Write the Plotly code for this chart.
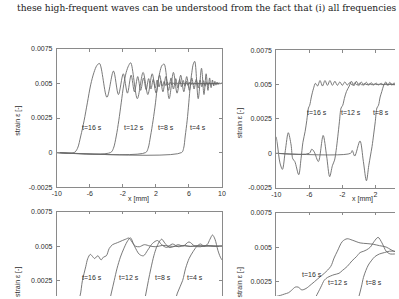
import plotly.graph_objects as go

W, H = 399, 299

TOP_TEXT = "these high-frequent waves can be understood from the fact that (i) all frequencies are"
Y_TITLE = "strain ε [-]"
X_TITLE = "x [mm]"
Y_TICK_VALUES = [-0.0025, 0, 0.0025, 0.005, 0.0075]
Y_TICK_LABELS = ["-0.0025", "0", "0.0025", "0.005", "0.0075"]
X_TICK_VALUES = [-10, -6, -2, 2, 6, 10]
X_TICK_LABELS = ["-10", "-6", "-2", "2", "6", "10"]

# ---------- top-left panel ----------
TL_T16_X = [-10, -7.9, -7.5, -7.1, -6.7, -6.3, -5.9, -5.5, -5.15, -4.83,
            -3.93, -3.14, -2.54, -1.95, -1.45, -1.0, -0.6, -0.2, 0.15, 0.5,
            0.82, 1.12, 1.4, 1.67, 1.92, 2.15, 2.38, 2.6, 2.8, 3.0,
            3.2, 3.38, 3.56, 3.74, 3.9, 4.06, 4.22, 4.38, 4.54, 4.7, 4.9, 10]
TL_T16_Y = [0, 0, 0.0003, 0.0012, 0.0023, 0.0036, 0.0049, 0.0058, 0.0063, 0.00645,
            0.0040, 0.0059, 0.0042, 0.0057, 0.0043, 0.0056, 0.0044, 0.0055, 0.0045, 0.0054,
            0.00455, 0.00535, 0.0046, 0.0053, 0.00468, 0.00525, 0.00475, 0.0052, 0.0048, 0.00515,
            0.00485, 0.0051, 0.0049, 0.00508, 0.00492, 0.00506, 0.00494, 0.00505, 0.00496, 0.00503, 0.005, 0.005]
TL_T12_X = [-10, -3.5, -3.15, -2.8, -2.5, -2.2, -1.9, -1.6, -1.3, -1.05,
            -0.25, 0.45, 1.02, 1.55, 2.02, 2.45, 2.85, 3.2, 3.53, 3.83,
            4.12, 4.4, 4.65, 4.88, 5.1, 5.31, 5.51, 5.7, 5.88, 6.05,
            6.22, 6.38, 6.54, 6.7, 6.85, 7.0, 7.2, 10]
TL_T12_Y = [0, 0, 0.0003, 0.0012, 0.0023, 0.0036, 0.0049, 0.0058, 0.0063, 0.0065,
            0.0039, 0.0058, 0.0042, 0.0057, 0.0043, 0.0056, 0.0044, 0.0055, 0.0045, 0.0054,
            0.0046, 0.00535, 0.00468, 0.0053, 0.00475, 0.00522, 0.0048, 0.00515, 0.00486, 0.0051,
            0.0049, 0.00507, 0.00493, 0.00505, 0.00496, 0.00503, 0.005, 0.005]
TL_T8_X = [-10, 0.75, 1.05, 1.35, 1.65, 1.95, 2.2, 2.47, 2.73, 3.0,
           3.6, 4.12, 4.56, 5.0, 5.38, 5.73, 6.05, 6.35, 6.62, 6.88,
           7.12, 7.35, 7.56, 7.76, 7.95, 8.13, 8.3, 8.47, 8.63, 8.78,
           8.93, 9.1, 10]
TL_T8_Y = [0, 0, 0.0003, 0.0012, 0.0023, 0.0036, 0.0049, 0.0058, 0.0063, 0.0064,
           0.0039, 0.0058, 0.0043, 0.0056, 0.0044, 0.0055, 0.0045, 0.0054, 0.0046, 0.0053,
           0.00468, 0.00525, 0.00476, 0.0052, 0.0048, 0.00512, 0.00488, 0.00508, 0.00493, 0.00505,
           0.00497, 0.005, 0.005]
TL_T4_X = [-10, 5.1, 5.35, 5.55, 5.78, 5.98, 6.17, 6.35, 6.52, 6.7,
           7.12, 7.52, 7.82, 8.08, 8.3, 8.5, 8.68, 8.85, 9.0, 9.14,
           9.27, 9.4, 9.52, 9.64, 9.76, 9.88, 10]
TL_T4_Y = [0, 0, 0.0003, 0.0012, 0.0023, 0.0036, 0.0049, 0.0058, 0.0064, 0.0066,
           0.0039, 0.0061, 0.0042, 0.0057, 0.0045, 0.0054, 0.0047, 0.00525, 0.00482, 0.00515,
           0.00488, 0.0051, 0.00492, 0.00506, 0.00495, 0.00503, 0.005]

# ---------- top-right panel ----------
TR_T16_X = [-10, -9.85, -9.55, -9.25, -8.9, -8.54, -8.2, -8.0, -7.75, -7.28,
            -7.0, -6.77, -6.5, -6.3, -6.1, -5.95, -5.75, -5.5, -5.25, -5.0,
            -4.7, -4.4, -4.1, -3.8, -3.5, -3.2, -2.9, -2.6, -2.3, -2.0,
            -1.7, -1.4, -1.1, -0.8, -0.5, -0.2, 0.1, 0.4, 0.7, 1.0,
            1.3, 1.6, 1.9, 2.2, 2.5, 2.8, 3.1, 3.4, 3.7, 4.0, 4.3, 4.6]
TR_T16_Y = [0.0012, 0.0006, -0.0007, -0.00117, 0.0002, 0.0015, 0.0006, -0.0004, -0.0006, -0.00156,
            -0.0004, 0.0008, 0.0016, 0.0024, 0.0033, 0.0035, 0.0041, 0.0047, 0.0051, 0.0049,
            0.0053, 0.0049, 0.0053, 0.00495, 0.0053, 0.00495, 0.00525, 0.00495, 0.0052, 0.00495,
            0.0052, 0.00497, 0.00515, 0.00497, 0.00512, 0.00498, 0.0051, 0.00498, 0.00508, 0.00499,
            0.00506, 0.00499, 0.00505, 0.005, 0.00504, 0.005, 0.00503, 0.005, 0.00503, 0.005, 0.00502, 0.005]
TR_T12_X = [-10, -6.0, -5.7, -5.4, -4.9, -4.32, -3.9, -3.53, -3.2, -2.94,
            -2.75, -2.55, -2.35, -2.15, -1.95, -1.75, -1.5, -1.16, -0.9, -0.6,
            -0.3, 0.0, 0.3, 0.6, 0.9, 1.2, 1.5, 1.8, 2.1, 2.4,
            2.7, 3.0, 3.3, 3.6, 3.9, 4.2, 4.6]
TR_T12_Y = [0, 0, 0.0003, 0.0001, -0.0006, 0.0013, -0.0002, -0.0017, -0.0009, -0.0005,
            0.0002, 0.0012, 0.0023, 0.0033, 0.0035, 0.0040, 0.0045, 0.0049, 0.00525, 0.00492,
            0.00525, 0.00493, 0.0052, 0.00495, 0.00518, 0.00496, 0.00515, 0.00497, 0.00512, 0.00498,
            0.0051, 0.00498, 0.00508, 0.00499, 0.00506, 0.005, 0.005]
TR_T8_X = [-10, -1.0, -0.8, -0.5, 0.14, 0.55, 0.92, 1.2, 1.4, 1.6,
           1.8, 1.99, 2.19, 2.38, 2.58, 2.78, 2.98, 3.25, 3.5, 3.75,
           4.0, 4.25, 4.6]
TR_T8_Y = [0, 0, 0.0002, -0.0002, 0.0009, -0.0006, -0.0020, -0.0009, -0.0002, 0.0005,
           0.0014, 0.0023, 0.0033, 0.0035, 0.0041, 0.0045, 0.0049, 0.0052, 0.00495, 0.00518,
           0.00497, 0.00512, 0.005]

# ---------- bottom-left panel ----------
BL_T16_X = [-10, -8.6, -8.0, -7.6, -7.2, -6.9, -6.5, -6.25, -5.94, -5.68,
            -5.42, -5.03, -4.64, -4.35, -4.0, -3.65, -3.25, -2.86, -2.45, -2.07,
            -1.65, -1.28, -0.9, -0.5, 0.0, 0.6, 1.3, 2.0, 2.8, 3.6,
            4.4, 5.2, 6.0, 6.8, 7.6, 8.4, 9.2, 10]
BL_T16_Y = [0, 0, 0.0004, 0.0009, 0.00137, 0.0025, 0.0035, 0.0041, 0.0044, 0.00425,
            0.0041, 0.0043, 0.0040, 0.0042, 0.0043, 0.00483, 0.0051, 0.0052, 0.0053, 0.0054,
            0.0055, 0.00558, 0.0053, 0.0050, 0.00495, 0.0051, 0.0050, 0.00495, 0.00505, 0.005,
            0.00497, 0.00503, 0.00498, 0.005, 0.00502, 0.005, 0.00499, 0.005]
BL_T12_X = [-10, -4.3, -3.8, -3.4, -3.05, -2.7, -2.3, -1.9, -1.5, -1.1,
            -0.6, 0.0, 0.5, 1.0, 1.6, 2.2, 2.7, 3.3, 4.0, 4.7,
            5.4, 6.2, 7.0, 7.8, 8.6, 9.4, 10]
BL_T12_Y = [0, 0, 0.0006, 0.0016, 0.0025, 0.0034, 0.0042, 0.0048, 0.0053, 0.0056,
            0.0050, 0.0044, 0.0043, 0.0047, 0.0052, 0.0054, 0.0051, 0.0049, 0.00515, 0.00495,
            0.00505, 0.00497, 0.00503, 0.00498, 0.00502, 0.005, 0.005]
BL_T8_X = [-10, 0.0, 0.45, 0.8, 1.09, 1.4, 1.75, 2.07, 2.4, 2.7,
           3.1, 3.6, 4.1, 4.7, 5.3, 6.0, 6.7, 7.4, 8.1, 8.8,
           9.5, 10]
BL_T8_Y = [0, 0, 0.0006, 0.0016, 0.0025, 0.0034, 0.0043, 0.0049, 0.0053, 0.0055,
           0.0052, 0.0049, 0.00495, 0.0051, 0.0050, 0.0053, 0.0050, 0.00495, 0.00505, 0.005,
           0.00498, 0.005]
BL_T4_X = [-10, 3.6, 4.1, 4.6, 5.23, 5.6, 6.02, 6.5, 7.0, 7.4,
           7.8, 8.2, 8.55, 8.85, 9.15, 9.5, 9.8, 10]
BL_T4_Y = [0, 0, 0.0006, 0.0016, 0.0025, 0.0034, 0.0041, 0.0046, 0.0050, 0.00515,
           0.0050, 0.0051, 0.0055, 0.0058, 0.0055, 0.0047, 0.0042, 0.0040]

# ---------- bottom-right panel ----------
BR_T16_X = [-10, -9.5, -9.0, -8.5, -8.13, -7.7, -7.34, -6.9, -6.4, -5.76,
            -4.97, -4.18, -3.4, -3.0, -2.6, -2.0, -1.42, -0.8, 0.15, 1.0,
            1.74, 2.5, 3.31, 3.9, 4.6]
BR_T16_Y = [0.00143, 0.0015, 0.0016, 0.0017, 0.00188, 0.0021, 0.0021, 0.0019, 0.0020, 0.0023,
            0.0027, 0.0031, 0.0036, 0.0042, 0.0047, 0.0054, 0.0056, 0.0055, 0.0053, 0.00525,
            0.0052, 0.0051, 0.0050, 0.0048, 0.0046]
BR_T12_X = [-10, -6.5, -5.8, -5.2, -4.6, -4.18, -3.79, -3.0, -2.4, -2.0,
            -1.4, -0.83, -0.3, 0.15, 0.6, 0.95, 1.4, 1.85, 2.33, 2.8,
            3.31, 3.8, 4.3, 4.6]
BR_T12_Y = [0, 0, 0.0007, 0.0014, 0.0021, 0.0026, 0.0028, 0.0030, 0.0031, 0.0033,
            0.0036, 0.0040, 0.0043, 0.0046, 0.0047, 0.0048, 0.0050, 0.0054, 0.0057, 0.0053,
            0.0047, 0.0045, 0.0045, 0.0045]
BR_T8_X = [-10, -1.0, -0.3, 0.0, 0.3, 0.56, 0.85, 1.15, 1.5, 1.93,
           2.5, 3.1, 3.7, 4.3, 4.6]
BR_T8_Y = [0, 0, 0.0008, 0.0014, 0.0021, 0.0028, 0.0033, 0.0037, 0.0040, 0.0043,
           0.0045, 0.0046, 0.0047, 0.0047, 0.0047]

# labels: (text, x, y)
TL_LABELS = [("t=16 s", -5.74, 0.00178), ("t=12 s", -0.65, 0.00178), ("t=8 s", 3.2, 0.00178), ("t=4 s", 7.04, 0.00178)]
TR_LABELS = [("t=16 s", -5.09, 0.00297), ("t=12 s", -0.89, 0.00297), ("t=8 s", 2.66, 0.00297)]
BL_LABELS = [("t=16 s", -5.72, 0.0027), ("t=12 s", -1.28, 0.0027), ("t=8 s", 2.9, 0.0027), ("t=4 s", 6.69, 0.0027)]
BR_LABELS = [("t=16 s", -5.7, 0.0030), ("t=12 s", -2.49, 0.0024), ("t=8 s", 1.83, 0.0024)]

LINE_COLOR = "#6a6a6a"
AXIS_COLOR = "#8a8a8a"
TEXT_COLOR = "#2e2e2e"
FONT = "Liberation Sans, Arial, sans-serif"

def px(v):
    return v / W

def py(v):
    return 1 - v / H

PX_PER_X = 8.45
PX_PER_Y = 14150.0

fig = go.Figure()

panels = [
    ("x", "y", [(TL_T16_X, TL_T16_Y), (TL_T12_X, TL_T12_Y), (TL_T8_X, TL_T8_Y), (TL_T4_X, TL_T4_Y)], TL_LABELS),
    ("x2", "y2", [(TR_T16_X, TR_T16_Y), (TR_T12_X, TR_T12_Y), (TR_T8_X, TR_T8_Y)], TR_LABELS),
    ("x3", "y3", [(BL_T16_X, BL_T16_Y), (BL_T12_X, BL_T12_Y), (BL_T8_X, BL_T8_Y), (BL_T4_X, BL_T4_Y)], BL_LABELS),
    ("x4", "y4", [(BR_T16_X, BR_T16_Y), (BR_T12_X, BR_T12_Y), (BR_T8_X, BR_T8_Y)], BR_LABELS),
]

annotations = []
for xa, ya, series, labels in panels:
    for xs, ys in series:
        fig.add_trace(go.Scatter(x=xs, y=ys, xaxis=xa, yaxis=ya, mode="lines",
                                 line=dict(color=LINE_COLOR, width=0.9, shape="spline", smoothing=0.9),
                                 showlegend=False, hoverinfo="skip", cliponaxis=True))
    for txt, lx, ly in labels:
        annotations.append(dict(text=txt, x=lx, y=ly, xref=xa, yref=ya, showarrow=False,
                                xanchor="center", yanchor="middle",
                                font=dict(size=7, color=TEXT_COLOR, family=FONT)))

common_x = dict(tickvals=X_TICK_VALUES, ticktext=X_TICK_LABELS, showgrid=False, zeroline=False,
                showline=True, linecolor=AXIS_COLOR, linewidth=0.8, ticks="inside", ticklen=3,
                tickcolor=AXIS_COLOR, tickwidth=0.8, tickfont=dict(size=7, color=TEXT_COLOR, family=FONT))
common_y = dict(tickvals=Y_TICK_VALUES, ticktext=Y_TICK_LABELS, showgrid=False, zeroline=False,
                showline=True, linecolor=AXIS_COLOR, linewidth=0.8, ticks="inside", ticklen=3,
                tickcolor=AXIS_COLOR, tickwidth=0.8, tickfont=dict(size=7, color=TEXT_COLOR, family=FONT),
                ticklabelstandoff=2)

L0, L1 = 53, 222
R0 = 277.5
right_max = -10 + (W - R0) / PX_PER_X
TOP0, TOP1 = 46, 187.5
BL_TOP = 212.5
BR_TOP = 213.5

fig.update_layout(
    width=W, height=H, margin=dict(l=0, r=0, t=0, b=0),
    paper_bgcolor="white", plot_bgcolor="white",
    xaxis=dict(common_x, domain=[px(L0), px(L1)], range=[-10, 10], anchor="y", mirror="ticks"),
    yaxis=dict(common_y, domain=[py(TOP1), py(TOP0)], range=[-0.0025, 0.0075], anchor="x", mirror="ticks"),
    xaxis2=dict(common_x, domain=[px(R0), 1], range=[-10, right_max], anchor="y2", mirror="ticks"),
    yaxis2=dict(common_y, domain=[py(TOP1 + 0.5), py(TOP0 + 1.5)], range=[-0.0025, 0.0075], anchor="x2"),
    xaxis3=dict(common_x, domain=[px(L0), px(L1)], range=[-10, 10], anchor="y3", side="top", showticklabels=False),
    yaxis3=dict(common_y, domain=[0, py(BL_TOP)], range=[0.0075 - (H - BL_TOP) / PX_PER_Y, 0.0075],
                anchor="x3", mirror="ticks"),
    xaxis4=dict(common_x, domain=[px(R0), 1], range=[-10, right_max], anchor="y4", side="top", showticklabels=False),
    yaxis4=dict(common_y, domain=[0, py(BR_TOP)], range=[0.0075 - (H - BR_TOP) / PX_PER_Y, 0.0075], anchor="x4"),
)

# axis titles as paper annotations
for cx, cy in [(14, 120), (240.5, 122), (14, 285), (240.5, 285)]:
    annotations.append(dict(text=Y_TITLE, x=px(cx), y=py(cy), xref="paper", yref="paper", showarrow=False,
                            xanchor="center", yanchor="middle",
                            textangle=-90, font=dict(size=7, color=TEXT_COLOR, family=FONT)))
for cx, cy in [(137, 200), (366, 200)]:
    annotations.append(dict(text=X_TITLE, x=px(cx), y=py(cy), xref="paper", yref="paper", showarrow=False,
                            xanchor="center", yanchor="middle",
                            font=dict(size=7, color=TEXT_COLOR, family=FONT)))

annotations.append(dict(text=TOP_TEXT, x=px(10), y=py(4.5), xref="paper", yref="paper", showarrow=False,
                        xanchor="left", yanchor="middle",
                        font=dict(size=9.1, color="#222222", family="DejaVu Serif, serif")))

fig.update_layout(annotations=annotations)
fig.write_html("out.html")
